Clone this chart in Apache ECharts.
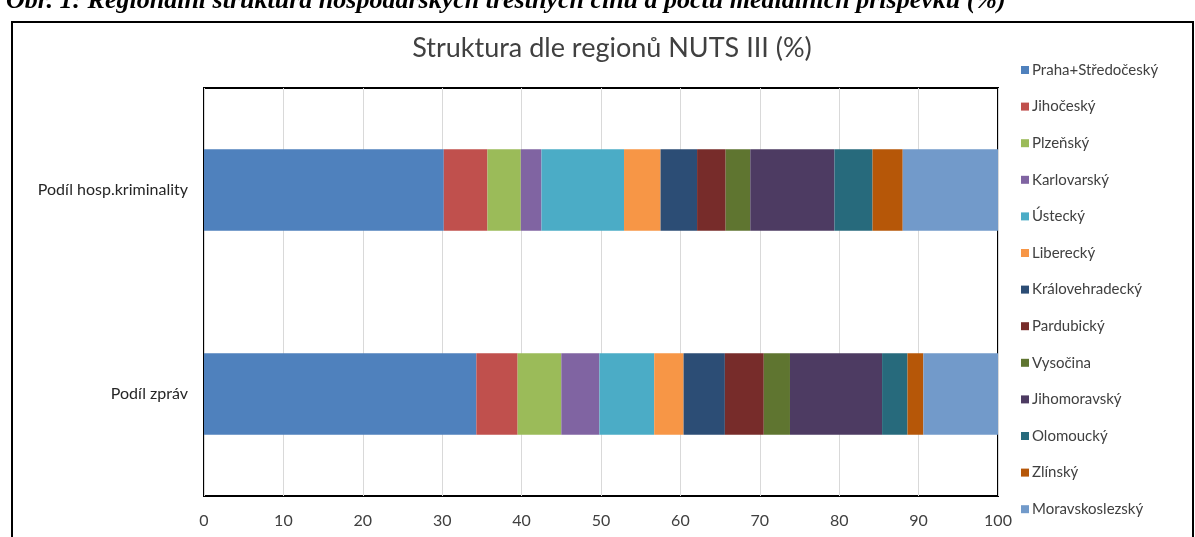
<!DOCTYPE html>
<html>
<head>
<meta charset="utf-8">
<script src="https://cdn.jsdelivr.net/npm/echarts@6/dist/echarts.min.js"></script>
<style>
html,body{margin:0;padding:0;background:#fff;}
#c{width:1195px;height:537px;}
</style>
</head>
<body>
<div id="c"></div>
<script>
const categories = ['Podíl hosp.kriminality', 'Podíl zpráv'];
const regions = ['Praha+Středočeský','Jihočeský','Plzeňský','Karlovarský','Ústecký','Liberecký','Královehradecký','Pardubický','Vysočina','Jihomoravský','Olomoucký','Zlínský','Moravskoslezský'];
const crimeShare = [30.2, 5.5, 4.2, 2.6, 10.4, 4.6, 4.6, 3.6, 3.1, 10.6, 4.8, 3.8, 12.0];
const newsShare  = [34.3, 5.2, 5.5, 4.8, 6.9, 3.7, 5.2, 4.9, 3.3, 11.6, 3.2, 2.0, 9.4];
const colors = ['#4F81BD','#C0504D','#9BBB59','#8064A2','#4BACC6','#F79646','#2C4D75','#772C2A','#5F7530','#4D3B62','#276A7C','#B65708','#729ACA'];
const xTicks = [0,10,20,30,40,50,60,70,80,90,100];

const chart = echarts.init(document.getElementById('c'));
const series = regions.map((name, i) => ({
  name: name,
  type: 'bar',
  stack: 'total',
  barWidth: '40%',
  itemStyle: { color: colors[i] },
  data: [crimeShare[i], newsShare[i]]
}));

chart.setOption({
  animation: false,
  backgroundColor: '#fff',
  title: {
    text: 'Struktura dle regionů NUTS III (%)',
    left: 607, top: 30, textAlign: 'center',
    textStyle: { fontFamily: 'Lato', fontSize: 27, fontWeight: 'normal', color: '#404040' }
  },
  legend: {
    orient: 'vertical',
    left: 1016, top: 57,
    itemWidth: 8, itemHeight: 8,
    itemGap: 20.6,
    icon: 'rect',
    textStyle: { fontFamily: 'Lato', fontSize: 15, color: '#404040', lineHeight: 16, padding: [0,0,0,-2] },
    data: regions
  },
  grid: {
    left: 204, top: 88, right: 197, bottom: 41,
    show: true, borderColor: '#000', borderWidth: 2, backgroundColor: 'transparent'
  },
  xAxis: {
    type: 'value', min: 0, max: 100, interval: 10,
    axisLine: { show: false }, axisTick: { show: false },
    splitLine: { lineStyle: { color: '#D9D9D9', width: 1 } },
    axisLabel: { fontFamily: 'Lato', fontSize: 16, color: '#404040', margin: 17,
      formatter: v => xTicks.includes(v) ? String(v) : '' }
  },
  yAxis: {
    type: 'category', data: categories, inverse: true,
    axisLine: { show: false }, axisTick: { show: false },
    axisLabel: { fontFamily: 'Lato', fontSize: 16, color: '#262626', margin: 16 }
  },
  graphic: [
    { type: 'rect', shape: { x: 12, y: 22, width: 1181, height: 540 },
      style: { fill: 'none', stroke: '#000', lineWidth: 2 }, z: 100 },
    { type: 'text', left: 6, top: -12,
      style: { text: 'Obr. 1: Regionální struktura hospodářských trestných činů a počtu mediálních příspěvků (%)',
        font: 'italic bold 26px "Liberation Serif"', fill: '#000' }, z: 100 }
  ],
  series: series
});
</script>
</body>
</html>
